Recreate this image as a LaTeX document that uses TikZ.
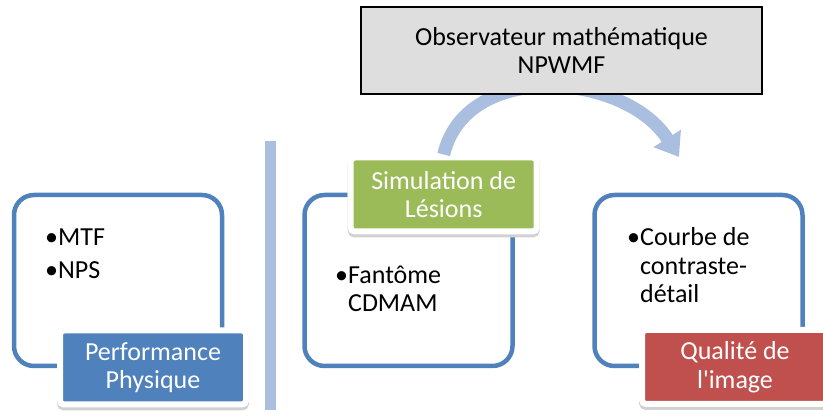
\documentclass[tikz,border=0pt]{standalone}
\usepackage{fontspec}
\setmainfont{Carlito}
\usetikzlibrary{arrows.meta}

\definecolor{bleu}{HTML}{4F81BD}
\definecolor{vert}{HTML}{9BBB59}
\definecolor{rouge}{HTML}{C0504D}
\definecolor{bleuclair}{HTML}{AABEDF}
\definecolor{grisclair}{HTML}{DEDEDE}

\tikzset{
  cadre/.style={draw=bleu, line width=4.5pt, rounded corners=20pt, minimum width=208pt, minimum height=171pt},
  etiquette/.style={fill=#1, draw=white, line width=6pt, rounded corners=4pt, text=white, align=center,
    minimum width=186pt, minimum height=74pt, inner sep=0pt,
    preaction={fill=black!18, draw=black!18, transform canvas={shift={(0pt,-3pt)}}}},
  puces/.style={anchor=base west, align=left, inner sep=0pt},
}

\begin{document}
\begin{tikzpicture}[x=1pt, y=-1pt, font=\fontsize{26}{28.5}\selectfont]
        \useasboundingbox (0,0) rectangle (823,414);
            \coordinate (B1) at (118,280.5);
            \coordinate (B2) at (408.5,280.5);
            \coordinate (B3) at (698.5,280.5);
            \coordinate (fin) at (679,157);

      % barre de separation
      \fill [bleuclair] (265,141) rectangle (276,410);

      \node [cadre] (perf) at (B1) {};
      \node [cadre] (cdmam) at (B2) {};
      \node [cadre] (qual) at (B3) {};

      % base = derniere ligne
      \node [puces] (liste1) at (45,279) {\textbullet MTF\\[4.5pt]\textbullet NPS};
      \node [puces] (liste2) at (335,312) {\textbullet Fant\^ome\\\phantom{\textbullet}CDMAM};
      \node [puces] (liste3) at (627,303) {\textbullet Courbe de\\\phantom{\textbullet}contraste-\\\phantom{\textbullet}d\'etail};

      \node [etiquette=vert] (sim) at (443.7,194.5) {Simulation de\\L\'esions};

      \draw [bleuclair, line width=13pt, -{Triangle[width=31pt, length=22pt]}]
            (sim.north) .. controls (466,60) and (625,72) .. (fin);

      \node [draw=black, line width=1.5pt, fill=grisclair, minimum width=401pt, minimum height=87pt, align=center] (obs) at (561.5,50.5) {Observateur math\'ematique\\NPWMF};

      \node [etiquette=bleu] (tagperf) at (153,367.5) {Performance\\Physique};
      \node [etiquette=rouge] (tagqual) at (735,367) {Qualit\'e de\\l\textquotesingle image};

      \end{tikzpicture}
\end{document}
